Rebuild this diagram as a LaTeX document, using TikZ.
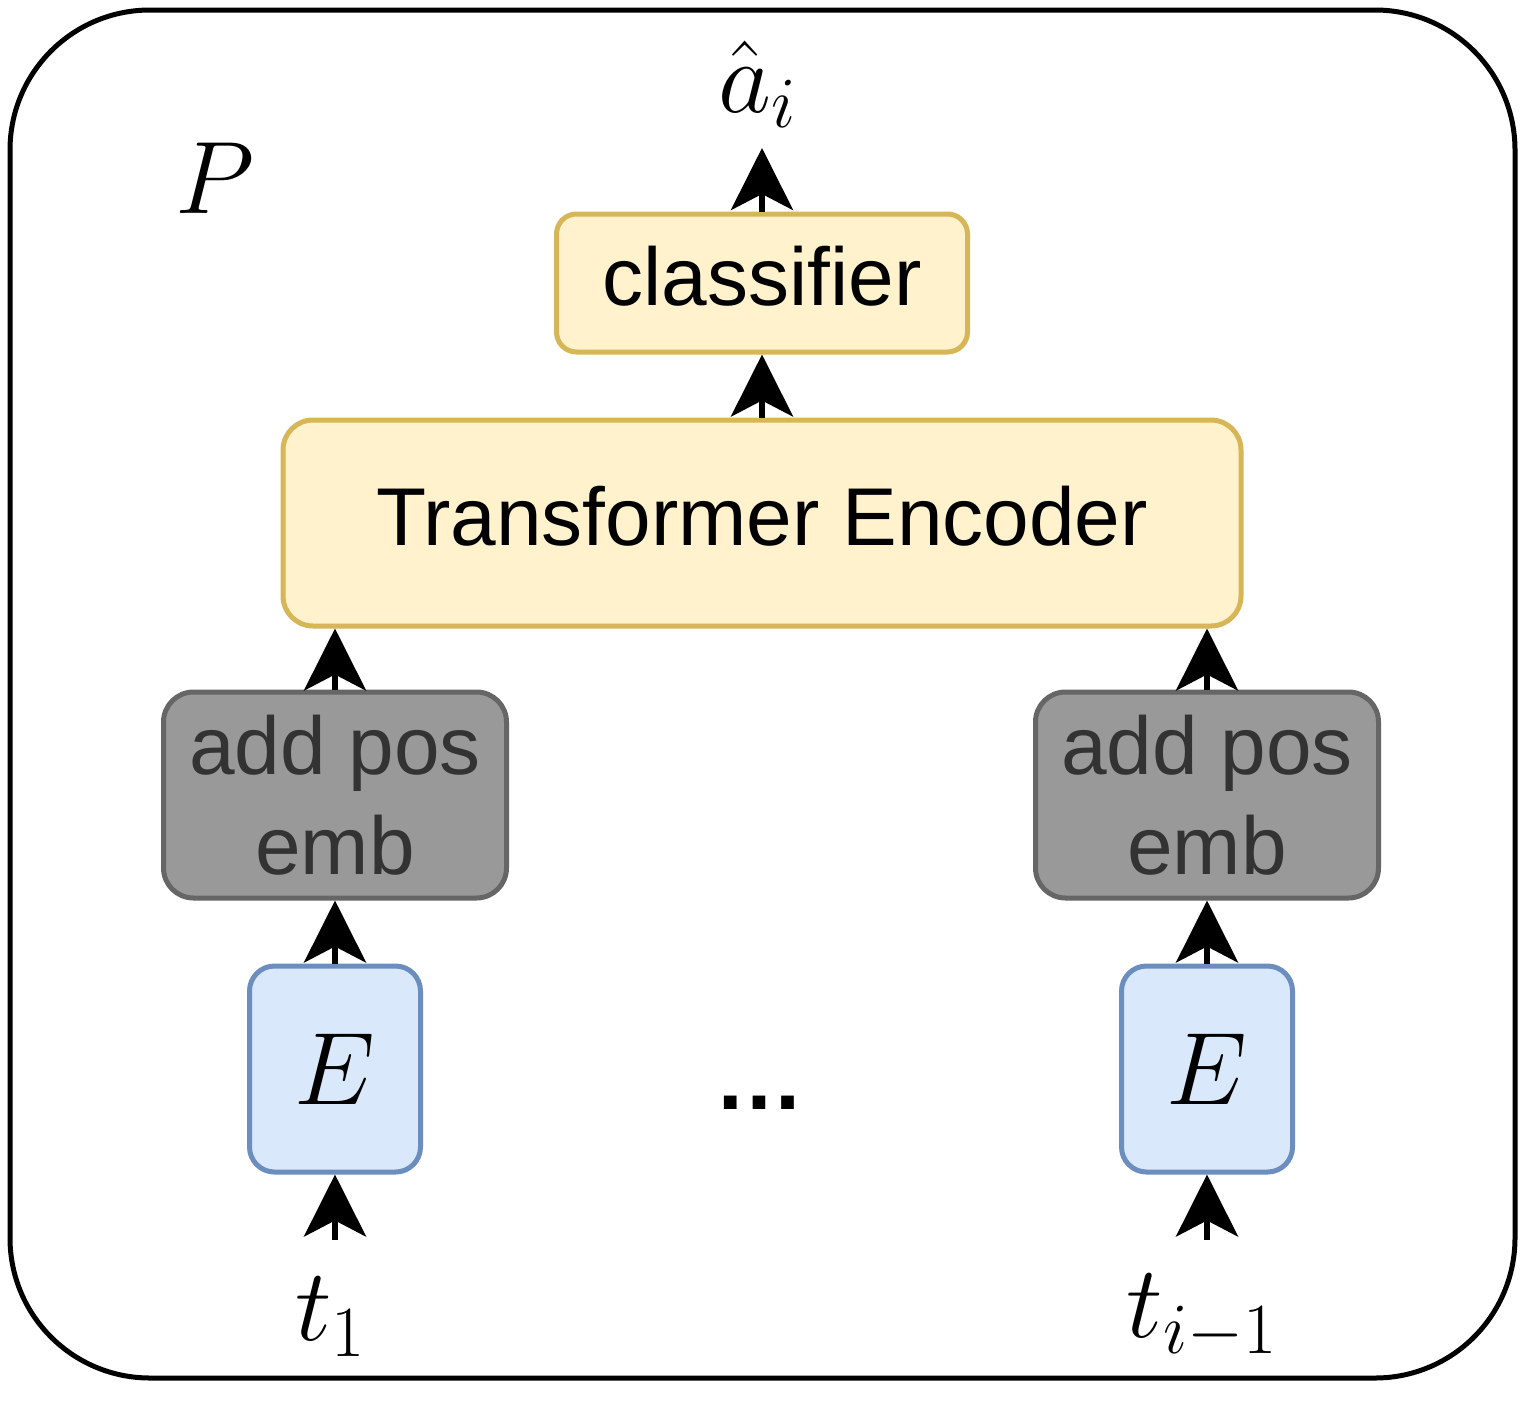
\documentclass[tikz,border=0pt]{standalone}
\usepackage{fix-cm}
\usepackage{fontspec}
\setsansfont{Liberation Sans}
\usetikzlibrary{arrows.meta}
\definecolor{yfill}{HTML}{FFF2CC}
\definecolor{ydraw}{HTML}{D6B656}
\definecolor{gfill}{HTML}{999999}
\definecolor{gdraw}{HTML}{666666}
\definecolor{gtext}{HTML}{333333}
\definecolor{bfill}{HTML}{DAE8FC}
\definecolor{bdraw}{HTML}{6C8EBF}
\tikzset{
  box/.style={draw, line width=5pt, inner sep=0pt, align=center,
    font=\sffamily\fontsize{82}{100}\selectfont},
  ybox/.style={box, fill=yfill, draw=ydraw, text depth=14pt},
  gbox/.style={box, fill=gfill, draw=gdraw, text=gtext, rounded corners=30pt,
    minimum width=343pt, minimum height=206pt},
  bbox/.style={box, fill=bfill, draw=bdraw, rounded corners=25pt,
    minimum width=171pt, minimum height=206pt},
  mfont/.style={font=\fontsize{103}{110}\selectfont},
  mlabel/.style={inner sep=0pt, mfont},
  conn/.style={line width=6pt, -{Stealth[length=62pt, width=62pt, inset=16pt]}},
}
\begin{document}
\begin{tikzpicture}[x=1pt, y=-1pt]
\useasboundingbox (0,0) rectangle (1523,1427);
\draw[line width=5pt, rounded corners=140pt] (10,10) rectangle (1515,1378);
\node[mlabel] (P) at (215,178) {$P$};
\node[mlabel] (ahat) at (757,84) {$\hat{a}_i$};
\node[ybox, rounded corners=20pt, minimum width=411pt, minimum height=138pt] (cls) at (762,283) {classifier};
\node[ybox, rounded corners=30pt, minimum width=958pt, minimum height=206pt] (enc) at (762,523) {Transformer Encoder};
\node[gbox] (ape1) at (335,795) {add pos\\emb};
\node[gbox] (ape2) at (1207,795) {add pos\\emb};
\node[bbox, mfont] (e1) at (335,1069) {$E$};
\node[bbox, mfont] (e2) at (1207,1069) {$E$};
\node[inner sep=0pt, font=\sffamily\bfseries\fontsize{90}{100}\selectfont] (dots) at (759,1103) {…};
\node[mlabel] (t1) at (330,1317) {$t_1$};
\node[mlabel] (t2) at (1202,1317) {$t_{i-1}$};
\coordinate (outtip) at (762,148);
\coordinate (in1) at (335,1240);
\coordinate (in2) at (1207,1240);
\draw[conn] (cls.north) -- (outtip);
\draw[conn] (enc.north -| cls.south) -- (cls.south);
\draw[conn] (ape1.north) -- (ape1.north |- enc.south);
\draw[conn] (ape2.north) -- (ape2.north |- enc.south);
\draw[conn] (e1.north) -- (ape1.south);
\draw[conn] (e2.north) -- (ape2.south);
\draw[conn] (in1) -- (e1.south);
\draw[conn] (in2) -- (e2.south);
\end{tikzpicture}
\end{document}
